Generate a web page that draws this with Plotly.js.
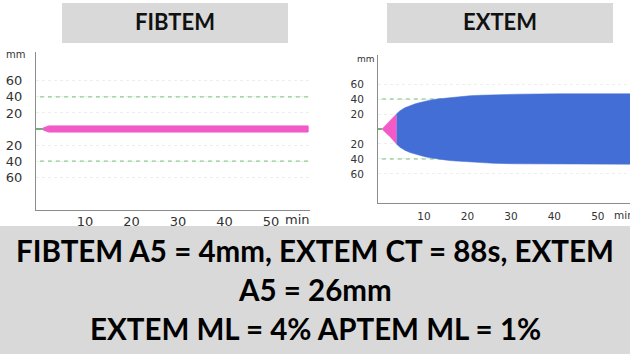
<!DOCTYPE html>
<html>
<head>
<meta charset="utf-8">
<script src="https://cdn.plot.ly/plotly-3.0.1.min.js"></script>
<style>html,body{margin:0;padding:0;background:#fff;}#chart{width:630px;height:354px;}</style>
</head>
<body>
<div id="chart"></div>
<script>
// ---- data ----
const panelTitles = ['FIBTEM', 'EXTEM'];
const summaryLines = [
  'FIBTEM A5 = 4mm, EXTEM CT = 88s, EXTEM',
  'A5 = 26mm',
  'EXTEM ML = 4% APTEM ML = 1%'
];
const xTickVals = [10, 20, 30, 40, 50];
const xTickText = ['10', '20', '30', '40', '50'];
const yTickVals = [60, 40, 20, -20, -40, -60];
const yTickText = ['60', '40', '20', '20', '40', '60'];
const refLevel = 40;           // green dashed reference lines (mm)

// FIBTEM trace: time (min) and half amplitude (mm)
const fibtemBaseTime = [-0.54, 1.0];
const fibtemTime = [1.0, 2.2, 58.0];
const fibtemAmp  = [1.2, 3.8, 3.8];

// EXTEM trace
const extemBaseTime = [-0.57, 0.34];
const extemCftTime = [0.34, 1.2, 2.2, 3.0, 3.72];
const extemCftAmp  = [0, 5, 10.5, 15.5, 20.4];
const extemTime = [3.72, 4.5, 5.6, 6.8, 8.0, 9.1, 10.2, 11.4, 13.0, 14.8, 16.5, 18.3, 20.5, 22.9, 26, 32, 41.2, 50, 60];
const extemAmp  = [20.4, 24.4, 28.3, 31.5, 33.6, 35.2, 36.9, 38.5, 40.0, 41.2, 42.4, 43.5, 44.3, 45.0, 45.8, 46.5, 47.0, 47.0, 47.0];

// ---- helpers ----
function band(t, a) {
  const x = t.concat(t.slice().reverse());
  const y = a.concat(a.slice().reverse().map(v => -v));
  return {x, y};
}
const pink = '#f25ac8', blue = '#436ed6', dashGreen = '#74c074', baseGreen = '#4f8f4f';

const fb = band(fibtemTime, fibtemAmp);
const ec = band(extemCftTime, extemCftAmp);
const eb = band(extemTime, extemAmp);

const traces = [
  // left panel
  {x:[0.3, 58.4], y:[refLevel, refLevel], xaxis:'x', yaxis:'y', mode:'lines', line:{color:dashGreen, width:1, dash:'4px,4px'}},
  {x:[0.3, 58.4], y:[-refLevel, -refLevel], xaxis:'x', yaxis:'y', mode:'lines', line:{color:dashGreen, width:1, dash:'4px,4px'}},
  {x:fibtemBaseTime, y:[0, 0], xaxis:'x', yaxis:'y', mode:'lines', line:{color:baseGreen, width:1.5}},
  {x:fb.x, y:fb.y, xaxis:'x', yaxis:'y', mode:'lines', fill:'toself', fillcolor:pink, line:{color:pink, width:1}},
  // right panel
  {x:[0.3, 60], y:[refLevel, refLevel], xaxis:'x2', yaxis:'y2', mode:'lines', line:{color:dashGreen, width:1, dash:'4px,4px'}},
  {x:[0.3, 60], y:[-refLevel, -refLevel], xaxis:'x2', yaxis:'y2', mode:'lines', line:{color:dashGreen, width:1, dash:'4px,4px'}},
  {x:extemBaseTime, y:[0, 0], xaxis:'x2', yaxis:'y2', mode:'lines', line:{color:baseGreen, width:1.5}},
  {x:ec.x, y:ec.y, xaxis:'x2', yaxis:'y2', mode:'lines', fill:'toself', fillcolor:pink, line:{color:pink, width:0.5}},
  {x:eb.x, y:eb.y, xaxis:'x2', yaxis:'y2', mode:'lines', fill:'toself', fillcolor:blue, line:{color:blue, width:0.5}}
];

const tickFont = {family:'DejaVu Sans', size:13, color:'#333'};
const tickFontR = {family:'DejaVu Sans', size:10.5, color:'#333'};
const axLine = '#8c8c8c';

function xax(domain, range, font, standoff) {
  return {domain, range, showline:true, linecolor:axLine, linewidth:1, zeroline:false, showgrid:false,
          tickvals:xTickVals, ticktext:xTickText, ticks:'', tickfont:font, ticklabelstandoff:standoff, fixedrange:true};
}
function yax(domain, range, font, standoff, anchor) {
  return {domain, range, anchor, showline:true, linecolor:axLine, linewidth:1, zeroline:false,
          showgrid:true, gridcolor:'#eeeeee', griddash:'dot', gridwidth:1,
          tickvals:yTickVals, ticktext:yTickText, ticks:'', tickfont:font, ticklabelstandoff:standoff, fixedrange:true};
}

const W = 630, H = 354;
const px = v => v / W, py = v => 1 - v / H;

const annFont = {family:'Lato', size:22, color:'#111', weight:700};
const sumFont = {family:'Lato', size:29.5, color:'#000', weight:700};

const layout = {
  width:W, height:H, margin:{l:0, r:0, t:0, b:0},
  paper_bgcolor:'#ffffff', plot_bgcolor:'#ffffff', showlegend:false,
  xaxis: Object.assign(xax([px(36), px(310)], [-0.54, 58.4], tickFont, -1), {anchor:'y'}),
  yaxis: yax([py(210), py(52)], [-101, 96], tickFont, 10, 'x'),
  xaxis2: Object.assign(xax([px(378), 1], [-0.57, 57.4], tickFontR, 3), {anchor:'y2'}),
  yaxis2: yax([py(203), py(55)], [-98.7, 98.7], tickFontR, 11, 'x2'),
  shapes: [
    {type:'rect', xref:'paper', yref:'paper', x0:px(62), x1:px(288), y0:py(43), y1:py(3), fillcolor:'#d9d9d9', line:{width:0}, layer:'above'},
    {type:'rect', xref:'paper', yref:'paper', x0:px(387), x1:px(613), y0:py(43), y1:py(3), fillcolor:'#d9d9d9', line:{width:0}, layer:'above'},
    {type:'rect', xref:'paper', yref:'paper', x0:0, x1:1, y0:0, y1:py(226), fillcolor:'#d9d9d9', line:{width:0}, layer:'above'}
  ],
  annotations: [
    {text:panelTitles[0], xref:'paper', yref:'paper', x:px(175), y:py(22), xanchor:'center', yanchor:'middle', showarrow:false, font:annFont},
    {text:panelTitles[1], xref:'paper', yref:'paper', x:px(500), y:py(22), xanchor:'center', yanchor:'middle', showarrow:false, font:annFont},
    {text:'mm', xref:'paper', yref:'paper', x:px(15), y:py(55), xanchor:'center', yanchor:'middle', showarrow:false, font:{family:'DejaVu Sans', size:10, color:'#333'}},
    {text:'mm', xref:'paper', yref:'paper', x:px(366), y:py(59), xanchor:'center', yanchor:'middle', showarrow:false, font:{family:'DejaVu Sans', size:9, color:'#333'}},
    {text:'min', xref:'paper', yref:'paper', x:px(297), y:py(219), xanchor:'center', yanchor:'middle', showarrow:false, font:{family:'DejaVu Sans', size:13, color:'#333'}},
    {text:'min', xref:'paper', yref:'paper', x:px(612), y:py(215), xanchor:'left', yanchor:'middle', showarrow:false, font:{family:'DejaVu Sans', size:10.5, color:'#333'}},
    {text:summaryLines[0], xref:'paper', yref:'paper', x:0.5, y:py(250), xanchor:'center', yanchor:'middle', showarrow:false, font:sumFont},
    {text:summaryLines[1], xref:'paper', yref:'paper', x:0.5, y:py(289), xanchor:'center', yanchor:'middle', showarrow:false, font:sumFont},
    {text:summaryLines[2], xref:'paper', yref:'paper', x:0.5, y:py(328), xanchor:'center', yanchor:'middle', showarrow:false, font:sumFont}
  ]
};

Plotly.newPlot('chart', traces, layout, {staticPlot:true, displayModeBar:false});
</script>
</body>
</html>
